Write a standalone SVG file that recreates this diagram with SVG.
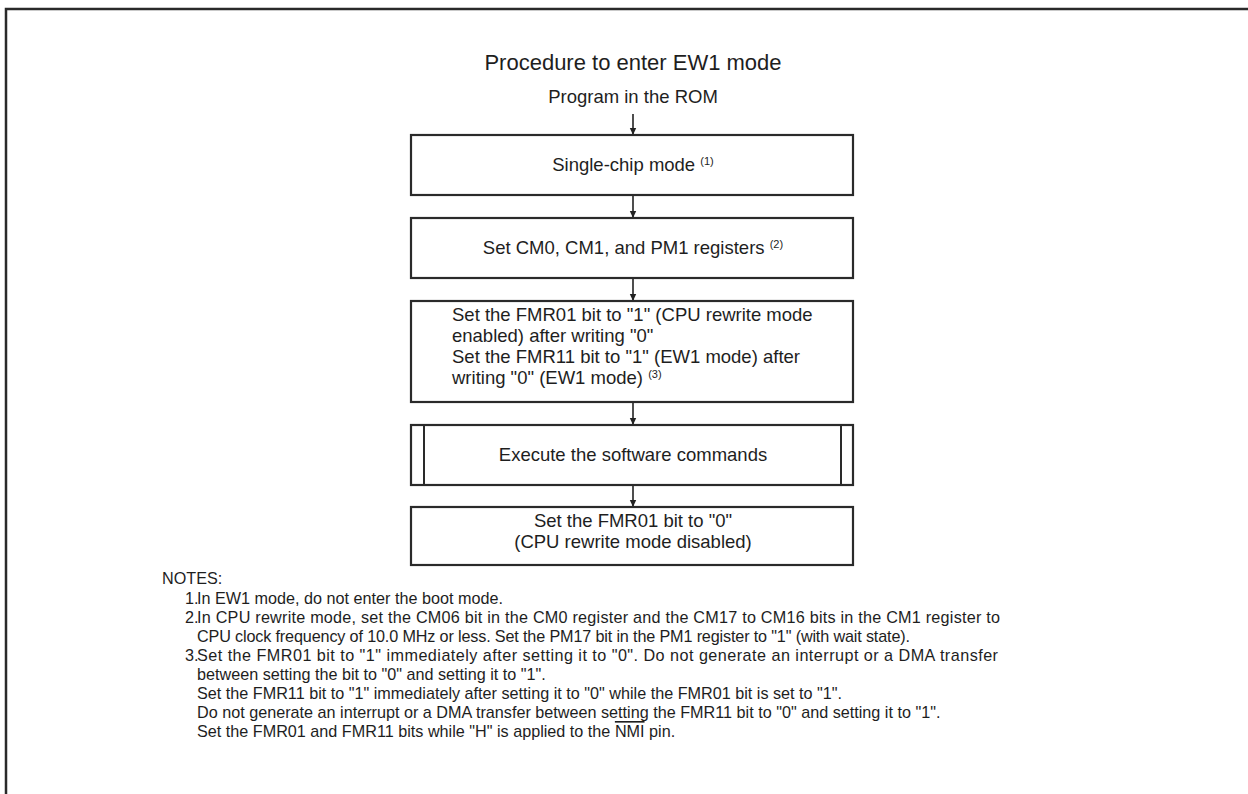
<svg xmlns="http://www.w3.org/2000/svg" width="1248" height="794" viewBox="0 0 1248 794">
<defs>
<marker id="ah" markerWidth="8" markerHeight="8" refX="7" refY="4" orient="auto" markerUnits="userSpaceOnUse">
<path d="M0,0.8 L7,4 L0,7.2 Z" fill="#222"/>
</marker>
<style>
text{font-family:"Liberation Sans",Arial,sans-serif;fill:#1e1e1e}
.t{font-size:22px}
.b{font-size:18.5px}
.n{font-size:16.2px}
.sup{font-size:11px}
.box{fill:#fff;stroke:#2a2a2a;stroke-width:2.2}
.c{stroke:#222;stroke-width:1.6;fill:none;marker-end:url(#ah)}
</style>
</defs>
<rect width="1248" height="794" fill="#fff"/>
<rect x="6" y="9" width="1262" height="810" fill="none" stroke="#2a2a2a" stroke-width="2.5"/>
<g id="title">
<text class="t" x="633" y="70" text-anchor="middle">Procedure to enter EW1 mode</text>
</g>
<g id="start">
<text class="b" x="633" y="103" text-anchor="middle">Program in the ROM</text>
</g>
<g id="connectors">
<line class="c" x1="633" y1="114" x2="633" y2="135"/>
<line class="c" x1="633" y1="196" x2="633" y2="218"/>
<line class="c" x1="633" y1="279" x2="633" y2="301"/>
<line class="c" x1="633" y1="403" x2="633" y2="425"/>
<line class="c" x1="633" y1="486" x2="633" y2="507"/>
</g>
<g id="n1">
<rect class="box" x="411" y="135" width="442" height="60"/>
<text class="b" x="633" y="171" text-anchor="middle">Single-chip mode <tspan class="sup" dy="-6">(1)</tspan></text>
</g>
<g id="n2">
<rect class="box" x="411" y="218" width="442" height="60"/>
<text class="b" x="633" y="254" text-anchor="middle">Set CM0, CM1, and PM1 registers <tspan class="sup" dy="-6">(2)</tspan></text>
</g>
<g id="n3">
<rect class="box" x="411" y="301" width="442" height="101"/>
<text class="b" x="452" y="321">Set the FMR01 bit to "1" (CPU rewrite mode</text>
<text class="b" x="452" y="342">enabled) after writing "0"</text>
<text class="b" x="452" y="363">Set the FMR11 bit to "1" (EW1 mode) after</text>
<text class="b" x="452" y="384">writing "0" (EW1 mode) <tspan class="sup" dy="-6">(3)</tspan></text>
</g>
<g id="n4">
<rect class="box" x="411" y="425" width="442" height="60"/>
<line x1="424" y1="425" x2="424" y2="485" stroke="#2a2a2a" stroke-width="2"/>
<line x1="841" y1="425" x2="841" y2="485" stroke="#2a2a2a" stroke-width="2"/>
<text class="b" x="633" y="461" text-anchor="middle">Execute the software commands</text>
</g>
<g id="n5">
<rect class="box" x="411" y="507" width="442" height="58"/>
<text class="b" x="633" y="527" text-anchor="middle">Set the FMR01 bit to "0"</text>
<text class="b" x="633" y="548" text-anchor="middle">(CPU rewrite mode disabled)</text>
</g>
<g id="notes">
<text class="n" x="162" y="584">NOTES:</text>
<text class="n" x="185" y="604">1.</text>
<text class="n" x="197" y="604">In EW1 mode, do not enter the boot mode.</text>
<text class="n" x="185" y="623">2.</text>
<text class="n" x="197" y="623" textLength="803" lengthAdjust="spacing">In CPU rewrite mode, set the CM06 bit in the CM0 register and the CM17 to CM16 bits in the CM1 register to</text>
<text class="n" x="197" y="642" textLength="713" lengthAdjust="spacing">CPU clock frequency of 10.0 MHz or less. Set the PM17 bit in the PM1 register to "1" (with wait state).</text>
<text class="n" x="185" y="661">3.</text>
<text class="n" x="197" y="661" textLength="801" lengthAdjust="spacing">Set the FMR01 bit to "1" immediately after setting it to "0". Do not generate an interrupt or a DMA transfer</text>
<text class="n" x="197" y="680">between setting the bit to "0" and setting it to "1".</text>
<text class="n" x="197" y="699">Set the FMR11 bit to "1" immediately after setting it to "0" while the FMR01 bit is set to "1".</text>
<text class="n" x="197" y="718">Do not generate an interrupt or a DMA transfer between setting the FMR11 bit to "0" and setting it to "1".</text>
<text class="n" x="197" y="737">Set the FMR01 and FMR11 bits while "H" is applied to the <tspan style="text-decoration:overline">NMI</tspan> pin.</text>
</g>
</svg>
